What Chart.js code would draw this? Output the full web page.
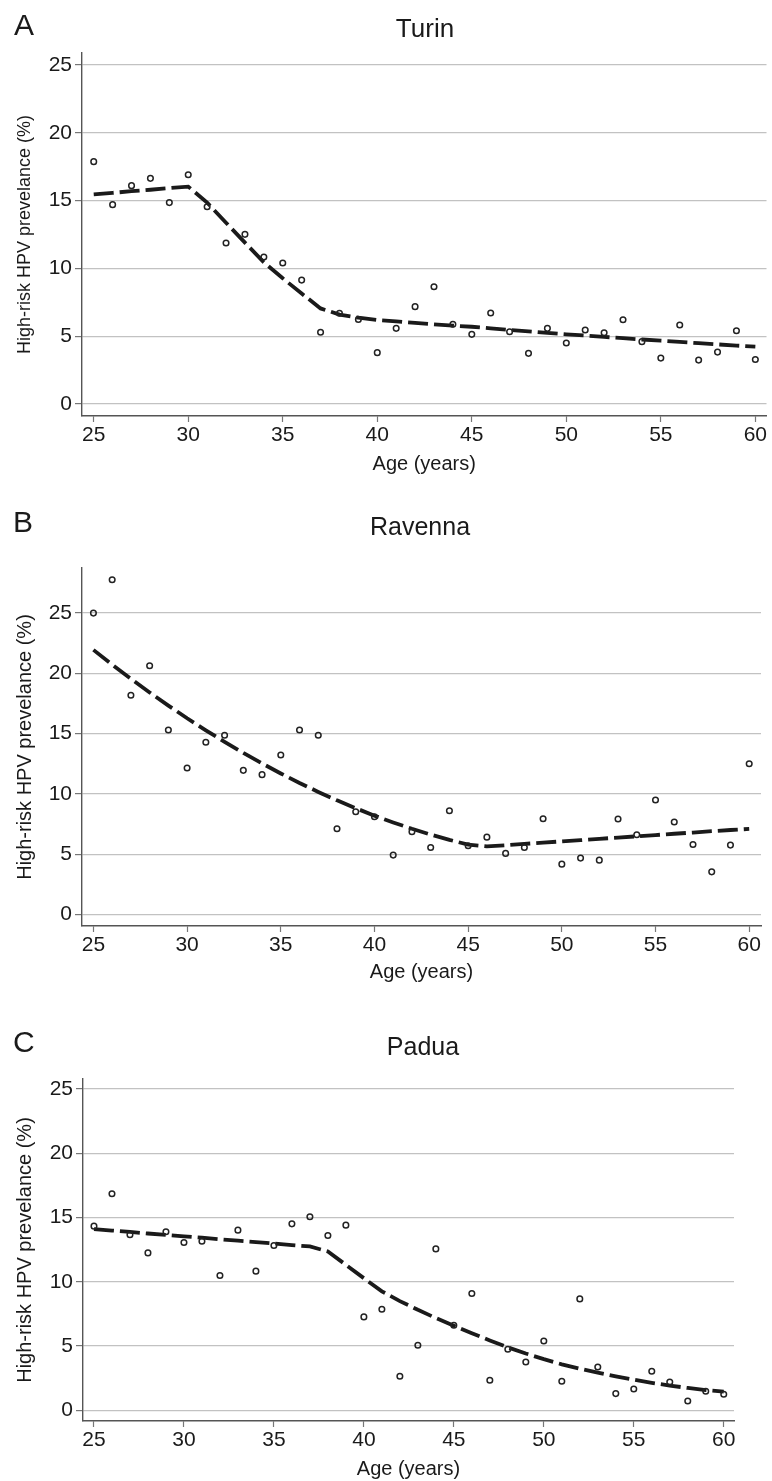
<!DOCTYPE html>
<html>
<head>
<meta charset="utf-8">
<script src="https://cdn.jsdelivr.net/npm/chart.js@4/dist/chart.umd.min.js"></script>
<style>
html, body { margin: 0; padding: 0; background: #fff; overflow: hidden; }
body { width: 772px; height: 1481px; position: relative; }
canvas { position: absolute; left: 0; }
</style>
</head>
<body>
<canvas id="cA" width="772" height="480" style="top:0px;width:772px;height:480px"></canvas>
<canvas id="cB" width="772" height="500" style="top:490px;width:772px;height:500px"></canvas>
<canvas id="cC" width="772" height="486" style="top:995px;width:772px;height:486px"></canvas>
<script>
// ---------------- data ----------------
const ages = [25,26,27,28,29,30,31,32,33,34,35,36,37,38,39,40,41,42,43,44,45,46,47,48,49,50,51,52,53,54,55,56,57,58,59,60];
const xTicks = [25,30,35,40,45,50,55,60];
const yTicks = [0,5,10,15,20,25];

const panelLetters = ['A','B','C'];
const panelTitles = ['Turin','Ravenna','Padua'];
const xAxisTitle = 'Age (years)';
const yAxisTitle = 'High-risk HPV prevelance (%)';

const turinObserved = [17.87,14.70,16.10,16.64,14.85,16.91,14.55,11.87,12.51,10.84,10.40,9.14,5.29,6.69,6.24,3.79,5.58,7.18,8.65,5.88,5.14,6.71,5.33,3.74,5.58,4.50,5.46,5.26,6.22,4.60,3.39,5.83,3.24,3.83,5.41,3.29];
const turinFitted   = [15.46,15.57,15.69,15.80,15.92,16.03,14.85,13.37,11.90,10.45,9.27,8.15,7.05,6.60,6.37,6.20,6.10,5.98,5.88,5.78,5.70,5.58,5.46,5.36,5.25,5.14,5.05,4.95,4.86,4.76,4.67,4.58,4.49,4.40,4.31,4.23];

const ravennaObserved = [25.00,27.77,18.19,20.63,15.31,12.15,14.29,14.87,11.96,11.60,13.23,15.31,14.87,7.12,8.53,8.11,4.93,6.87,5.56,8.61,5.70,6.42,5.07,5.56,7.95,4.18,4.68,4.51,7.92,6.62,9.50,7.67,5.81,3.54,5.76,12.51];
const ravennaFitted   = [21.95,20.73,19.55,18.42,17.33,16.28,15.28,14.32,13.40,12.53,11.70,10.91,10.17,9.47,8.82,8.20,7.64,7.11,6.63,6.19,5.80,5.65,5.75,5.86,5.96,6.07,6.17,6.28,6.38,6.49,6.59,6.70,6.80,6.91,7.01,7.10];

const paduaObserved = [14.33,16.85,13.66,12.25,13.89,13.06,13.16,10.49,14.02,10.83,12.82,14.51,15.06,13.60,14.41,7.27,7.87,2.65,5.06,12.56,6.62,9.09,2.34,4.75,3.76,5.40,2.26,8.67,3.37,1.30,1.66,3.04,2.21,0.73,1.48,1.25];
const paduaFitted   = [14.10,13.99,13.88,13.76,13.65,13.54,13.43,13.31,13.20,13.09,12.98,12.86,12.75,12.36,11.32,10.28,9.26,8.50,7.82,7.18,6.58,6.00,5.44,4.90,4.42,3.98,3.58,3.24,2.93,2.64,2.38,2.14,1.93,1.74,1.58,1.45];

// ---------------- drawing ----------------
const FONT = '"Liberation Sans", Arial, Helvetica, sans-serif';
const INK = '#1a1a1a';

const panelText = {
  id: 'panelText',
  afterDraw(chart, args, o) {
    const ctx = chart.ctx;
    ctx.save();
    ctx.fillStyle = INK;
    ctx.textBaseline = 'alphabetic';
    ctx.textAlign = 'left';
    ctx.font = o.letterSize + 'px ' + FONT;
    ctx.fillText(o.letter, o.letterX, o.letterY);
    ctx.textAlign = 'center';
    ctx.font = o.titleSize + 'px ' + FONT;
    ctx.fillText(o.title, o.titleX, o.titleY);
    ctx.restore();
  }
};

function toPoints(xs, ys) { return xs.map((x, i) => ({ x: x, y: ys[i] })); }

function makePanel(id, idx, observed, fitted, g) {
  new Chart(document.getElementById(id), {
    type: 'scatter',
    data: {
      datasets: [
        {
          label: 'observed',
          data: toPoints(ages, observed),
          pointRadius: 2.8,
          pointBorderWidth: 1.5,
          borderColor: '#222',
          backgroundColor: 'rgba(255,255,255,0)',
          order: 1
        },
        {
          label: 'fitted',
          data: toPoints(ages, fitted),
          showLine: true,
          pointRadius: 0,
          borderColor: INK,
          borderWidth: 3.8,
          borderDash: [20, 6],
          borderCapStyle: 'butt',
          tension: 0,
          order: 2
        }
      ]
    },
    options: {
      responsive: false,
      animation: false,
      events: [],
      layout: { padding: { left: 0, top: g.padTop, right: g.padRight, bottom: g.padBottom } },
      plugins: {
        legend: { display: false },
        tooltip: { enabled: false },
        panelText: {
          letter: panelLetters[idx], letterX: g.letterX, letterY: g.letterY, letterSize: 30,
          title: panelTitles[idx], titleX: g.titleX, titleY: g.titleY, titleSize: g.titleSize
        }
      },
      scales: {
        x: {
          type: 'linear',
          min: g.xMin, max: g.xMax,
          afterBuildTicks: s => { s.ticks = xTicks.map(v => ({ value: v })); },
          afterFit: s => { s.height = g.xH; },
          ticks: { font: { family: FONT, size: 21 }, color: INK, padding: 1, maxRotation: 0, autoSkip: false },
          grid: { drawOnChartArea: false, drawTicks: true, tickLength: 6, tickColor: '#777', tickWidth: 1.2 },
          border: { color: '#555', width: 1.4 },
          title: { display: true, text: xAxisTitle, font: { family: FONT, size: 20 }, color: INK, padding: { top: 0, bottom: 0 } }
        },
        y: {
          type: 'linear',
          min: g.yMin, max: g.yMax,
          afterBuildTicks: s => { s.ticks = yTicks.map(v => ({ value: v })); },
          afterFit: s => { s.width = g.yW; },
          ticks: { font: { family: FONT, size: 21 }, color: INK, padding: 3, autoSkip: false },
          grid: { color: '#c2c2c2', lineWidth: 1.2, drawTicks: true, tickLength: 7, tickColor: '#777', tickWidth: 1.2 },
          border: { color: '#555', width: 1.4 },
          title: { display: true, text: yAxisTitle, font: { family: FONT, size: g.yTitleSize }, color: INK, padding: { top: g.yTitlePad, bottom: 0 } }
        }
      }
    },
    plugins: [panelText]
  });
}

makePanel('cA', 0, turinObserved, turinFitted, {
  padTop: 53, padRight: 2, padBottom: 4, xH: 60, yW: 82,
  xMin: 24.38, xMax: 60.59, yMin: -0.88, yMax: 25.88,
  yTitleSize: 18, yTitlePad: 14,
  letterX: 14, letterY: 35, titleX: 425, titleY: 37, titleSize: 26
});
makePanel('cB', 1, ravennaObserved, ravennaFitted, {
  padTop: 78, padRight: 11, padBottom: 6, xH: 58, yW: 82,
  xMin: 24.39, xMax: 60.63, yMin: -0.95, yMax: 28.74,
  yTitleSize: 20, yTitlePad: 13,
  letterX: 13, letterY: 42, titleX: 420, titleY: 45, titleSize: 25
});
makePanel('cC', 2, paduaObserved, paduaFitted, {
  padTop: 84, padRight: 38, padBottom: 0, xH: 60, yW: 83,
  xMin: 24.39, xMax: 60.57, yMin: -0.83, yMax: 25.78,
  yTitleSize: 20, yTitlePad: 13,
  letterX: 13, letterY: 57, titleX: 423, titleY: 60, titleSize: 25
});
</script>
</body>
</html>
